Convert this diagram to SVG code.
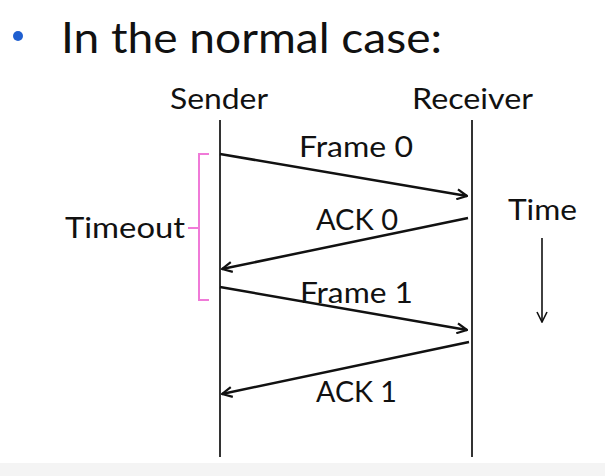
<svg xmlns="http://www.w3.org/2000/svg" width="605" height="476" viewBox="0 0 605 476">
<defs>
<style>
text{font-family:Lato,"Open Sans","Liberation Sans",sans-serif;fill:#111}
.lbl{font-size:28px}
.hdr{font-size:29px}
.life{stroke:#333;stroke-width:2}
.msg{stroke:#111;stroke-width:2.5;fill:none}
</style>
<marker id="ah" viewBox="0 0 12 12" refX="11" refY="6" markerWidth="12" markerHeight="12" markerUnits="userSpaceOnUse" orient="auto">
<path d="M1,1 L11,6 L1,11" fill="none" stroke="#111" stroke-width="2.2"/>
</marker>
<marker id="ah2" viewBox="0 0 12 12" refX="11" refY="6" markerWidth="12" markerHeight="12" markerUnits="userSpaceOnUse" orient="auto">
<path d="M1,1 L11,6 L1,11" fill="none" stroke="#111" stroke-width="1.6"/>
</marker>
</defs>
<rect width="605" height="476" fill="#fff"/>
<rect x="0" y="463" width="605" height="13" fill="#f4f4f4"/>
<g id="title">
<circle cx="18" cy="36" r="5" fill="#1f5fd0"/>
<text x="61" y="53" font-size="42" textLength="381" lengthAdjust="spacingAndGlyphs">In the normal case:</text>
</g>
<g id="sender">
<text class="hdr" x="170" y="109" textLength="98" lengthAdjust="spacingAndGlyphs">Sender</text>
<line class="life" x1="220" y1="120" x2="220" y2="457"/>
</g>
<g id="receiver">
<text class="hdr" x="412" y="109" textLength="121" lengthAdjust="spacingAndGlyphs">Receiver</text>
<line class="life" x1="472" y1="120" x2="472" y2="457"/>
</g>
<g id="timeout">
<path d="M209,154 H199 V300 H209 M199,228 H188" fill="none" stroke="#f07ad8" stroke-width="2"/>
<text class="lbl" x="65" y="238" textLength="120" lengthAdjust="spacingAndGlyphs">Timeout</text>
</g>
<g id="time">
<text class="lbl" x="508" y="220" textLength="69" lengthAdjust="spacingAndGlyphs">Time</text>
<line x1="542" y1="238" x2="542" y2="322" stroke="#111" stroke-width="1.6" marker-end="url(#ah2)"/>
</g>
<g id="connectors">
<line class="msg" x1="220" y1="154" x2="467" y2="196" marker-end="url(#ah)"/>
<line class="msg" x1="468" y1="218" x2="222" y2="269" marker-end="url(#ah)"/>
<line class="msg" x1="220" y1="287" x2="467" y2="330" marker-end="url(#ah)"/>
<line class="msg" x1="469" y1="342" x2="222" y2="394" marker-end="url(#ah)"/>
</g>
<g id="labels">
<text class="lbl" x="299" y="157" textLength="114" lengthAdjust="spacingAndGlyphs">Frame 0</text>
<text class="lbl" x="316" y="230" textLength="82" lengthAdjust="spacingAndGlyphs">ACK 0</text>
<text class="lbl" x="300" y="303" textLength="113" lengthAdjust="spacingAndGlyphs">Frame 1</text>
<text class="lbl" x="316" y="402" textLength="81" lengthAdjust="spacingAndGlyphs">ACK 1</text>
</g>
</svg>
